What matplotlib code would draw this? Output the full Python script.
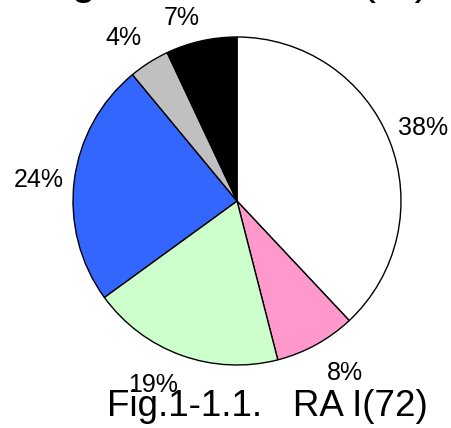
import matplotlib
matplotlib.use("Agg")
import matplotlib.pyplot as plt

# ---- data ----
categories = ["A", "B", "C", "D", "E", "F"]
values = [38, 8, 19, 24, 4, 7]
colors = ["#FFFFFF", "#FF99CC", "#CCFFCC", "#3366FF", "#C0C0C0", "#000000"]
title_text = "Weight loss cases (%)"
caption_text = "Fig.1-1.1.   RA I(72)"

# ---- layout ----
W, H = 452, 428
cx, cy, r = 237, 201, 164
# label anchor positions (axes data units, baseline)
label_pos = [(1.134, 0.402), (0.659, -1.091), (-0.512, -1.165),
             (-1.207, 0.085), (-0.695, 0.951), (-0.335, 1.073)]

plt.rcParams['font.family'] = ['Liberation Sans', 'DejaVu Sans']

fig = plt.figure(figsize=(W / 100, H / 100), dpi=100)
fig.patch.set_facecolor("white")
ax = fig.add_axes([(cx - r) / W, (H - cy - r) / H, 2 * r / W, 2 * r / H])

wedges, texts, autotexts = ax.pie(
    values, colors=colors, startangle=90, counterclock=False,
    autopct=lambda p: "%d%%" % round(p), pctdistance=1.2,
    wedgeprops=dict(edgecolor="black", linewidth=1.0),
    textprops=dict(fontsize=18, color="black"))

for t, (x, y) in zip(autotexts, label_pos):
    t.set_position((x, y))
    t.set_ha("center")
    t.set_va("baseline")
    t.set_clip_on(False)

ax.set_xlim(-1, 1)
ax.set_ylim(-1, 1)
ax.set_aspect("equal")
ax.axis("off")

fig.text(-3 / W, 1 + 6 / H, title_text, fontsize=31.5, ha="left", va="baseline")
fig.text(107 / W, 1 - 416 / H, caption_text, fontsize=26.5, ha="left", va="baseline")

fig.savefig("out.png", dpi=100, facecolor="white")
